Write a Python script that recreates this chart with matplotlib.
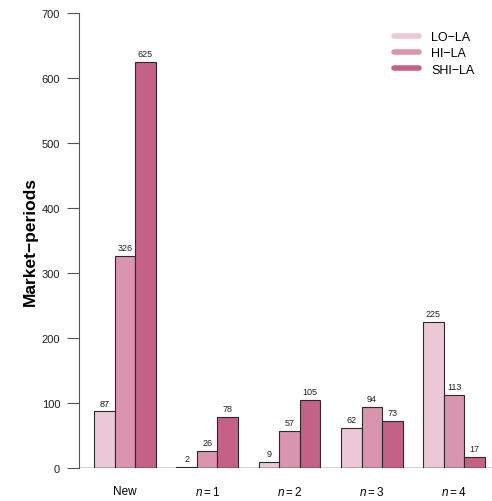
import numpy as np
import matplotlib.pyplot as plt

plt.rcParams['font.family'] = ['Liberation Sans', 'DejaVu Sans']
plt.rcParams['mathtext.fontset'] = 'custom'
plt.rcParams['mathtext.it'] = 'Liberation Sans:italic'
plt.rcParams['mathtext.rm'] = 'Liberation Sans'

groups = ['New', '$n = 1$', '$n = 2$', '$n = 3$', '$n = 4$']
series = ['LO\u2212LA', 'HI\u2212LA', 'SHI\u2212LA']
lo_la = [87, 2, 9, 62, 225]
hi_la = [326, 26, 57, 94, 113]
shi_la = [625, 78, 105, 73, 17]
colors = ['#ecc8d6', '#d995ae', '#c46187']

fig = plt.figure(figsize=(4.92, 5.02), dpi=100)
ax = fig.add_axes([79 / 492, 33 / 502, 413 / 492, 455 / 502])

# R-style barplot: bar width 1, one bar of space between groups
for k, vals in enumerate([lo_la, hi_la, shi_la]):
    x = np.arange(len(groups)) * 4 + 1.5 + k
    ax.bar(x, vals, width=1, color=colors[k], edgecolor='#2a2a2a',
           linewidth=0.8, label=series[k])
    for xi, v in zip(x, vals):
        ax.text(xi, v + 6, str(v), ha='center', va='bottom', fontsize=6.5,
                color='#222222')

ax.axhline(0, color='#222222', lw=1.0)
ax.set_xlim(0.27, 20.34)
ax.set_ylim(0, 700)
ax.set_yticks(range(0, 701, 100))
ax.tick_params(axis='y', length=8.5, width=0.8, color='#555555', labelsize=8,
               pad=5, labelcolor='#222222')
ax.set_xticks(np.arange(len(groups)) * 4 + 2.5)
ax.set_xticklabels(groups, fontsize=8.5)
ax.tick_params(axis='x', length=0, pad=12.5)
for s in ['top', 'right', 'bottom']:
    ax.spines[s].set_visible(False)
ax.spines['left'].set_color('#555555')
ax.spines['left'].set_linewidth(0.8)
ax.spines['left'].set_bounds(0, 700)
ax.set_ylabel('Market\u2212periods', fontsize=12.5, fontweight='bold', labelpad=3)

handles = [plt.Line2D([], [], color=c, lw=4, solid_capstyle='round') for c in colors]
ax.legend(handles, series, loc='upper right', bbox_to_anchor=(0.985, 0.985),
          frameon=False, fontsize=9, handlelength=2.0, handletextpad=1.0,
          labelspacing=0.35)

fig.savefig('out.png', dpi=100)
